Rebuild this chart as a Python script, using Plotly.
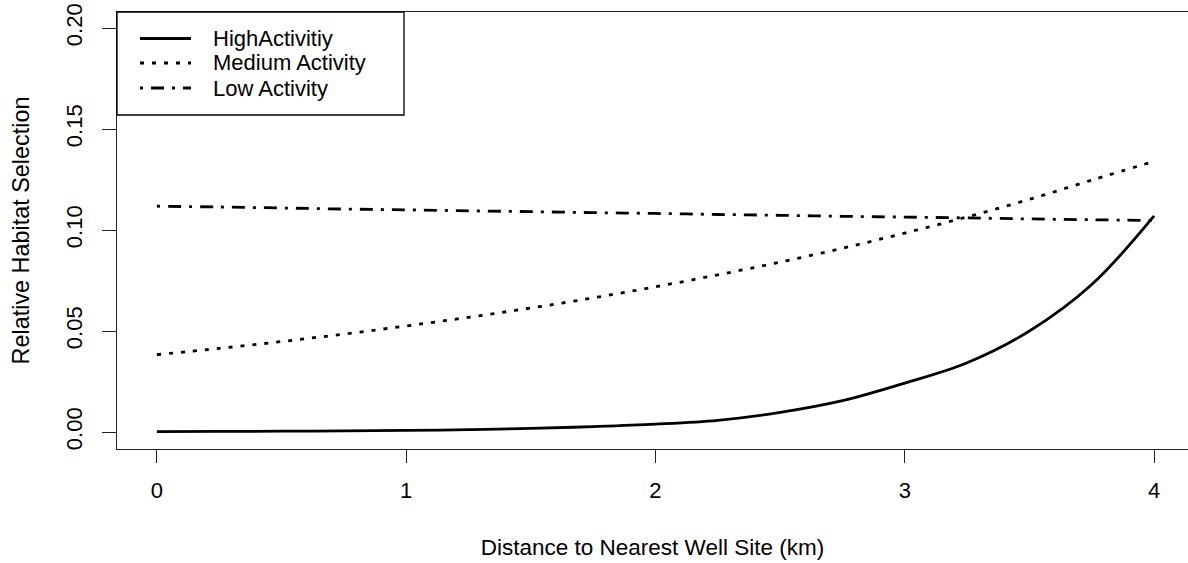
import plotly.graph_objects as go

distance_km = [0, 0.25, 0.5, 0.75, 1.0, 1.25, 1.5, 1.75, 2.0, 2.25, 2.5, 2.75, 3.0, 3.25, 3.5, 3.75, 4.0]
high_activity = [0.0002, 0.0003, 0.0004, 0.0006, 0.0008, 0.0012, 0.0018, 0.0027, 0.0039, 0.0058,
                 0.0097, 0.0155, 0.0242, 0.0343, 0.0500, 0.0730, 0.1070]
medium_activity = [0.0383, 0.0414, 0.0448, 0.0485, 0.0525, 0.0568, 0.0614, 0.0664, 0.0719, 0.0778,
                   0.0841, 0.0910, 0.0985, 0.1065, 0.1152, 0.1247, 0.1340]
low_activity = [0.1118, 0.1114, 0.1109, 0.1104, 0.1100, 0.1095, 0.1091, 0.1086, 0.1082, 0.1077,
                0.1073, 0.1068, 0.1064, 0.1060, 0.1055, 0.1051, 0.1047]

series_names = ["HighActivitiy", "Medium Activity", "Low Activity"]
x_ticks = [0, 1, 2, 3, 4]
y_ticks = [0.00, 0.05, 0.10, 0.15, 0.20]
y_tick_labels = ["0.00", "0.05", "0.10", "0.15", "0.20"]

W, H = 1188, 563
ML, MR, MT, MB = 117, 0, 12, 114
PW, PH = W - ML - MR, H - MT - MB

FONT = "Liberation Sans, Arial, sans-serif"
dashes = ["solid", "4px,8px", "3px,8px,13px,8px"]
LW = 2.8

fig = go.Figure()
for name, ys, dash in zip(series_names, [high_activity, medium_activity, low_activity], dashes):
    fig.add_trace(go.Scatter(x=distance_km, y=ys, mode="lines", name=name,
                             line=dict(color="black", width=LW, dash=dash, shape="spline", smoothing=1.0),
                             showlegend=False))

def px_x(p):
    return (p - ML) / PW

def px_y(p):
    return 1 - (p - MT) / PH

# manual legend (R-style boxed legend)
shapes = [dict(type="rect", xref="paper", yref="paper", x0=px_x(117), x1=px_x(404),
               y0=px_y(115), y1=px_y(12), line=dict(color="black", width=1.3), fillcolor="white", layer="above")]
annotations = []
rows = [38.5, 63, 88]
for name, dash, ry in zip(series_names, dashes, rows):
    shapes.append(dict(type="line", xref="paper", yref="paper", x0=px_x(140), x1=px_x(191),
                       y0=px_y(ry), y1=px_y(ry), line=dict(color="black", width=LW, dash=dash), layer="above"))
    annotations.append(dict(text=name, xref="paper", yref="paper", x=px_x(211), y=px_y(ry),
                            xanchor="left", yanchor="middle", showarrow=False,
                            font=dict(family=FONT, size=22, color="black")))

fig.update_layout(
    width=W, height=H,
    margin=dict(l=ML, r=MR, t=MT, b=MB, autoexpand=False),
    paper_bgcolor="white", plot_bgcolor="white",
    shapes=shapes, annotations=annotations,
    font=dict(family=FONT, color="black"),
)
fig.update_xaxes(range=[-0.16, -0.16 + PW / 249.3], tickvals=x_ticks, ticktext=[str(v) for v in x_ticks],
                 showgrid=False, zeroline=False, showline=True, mirror=True, linecolor="#222", linewidth=1.4,
                 ticks="outside", ticklen=13, tickwidth=1.3, tickcolor="#222", ticklabelstandoff=8,
                 tickfont=dict(family=FONT, size=22), automargin=False,
                 title=dict(text="Distance to Nearest Well Site (km)", font=dict(family=FONT, size=22.5), standoff=37))
fig.update_yaxes(range=[-0.0084, -0.0084 + PH / 2020], tickvals=y_ticks, ticktext=y_tick_labels,
                 showgrid=False, zeroline=False, showline=True, mirror=False, linecolor="#222", linewidth=1.4,
                 ticks="outside", ticklen=14, tickwidth=1.3, tickcolor="#222", tickangle=-90, ticklabelstandoff=11,
                 tickfont=dict(family=FONT, size=22), automargin=False,
                 title=dict(text="Relative Habitat Selection", font=dict(family=FONT, size=23.4), standoff=25))

fig.write_html("out.html")
